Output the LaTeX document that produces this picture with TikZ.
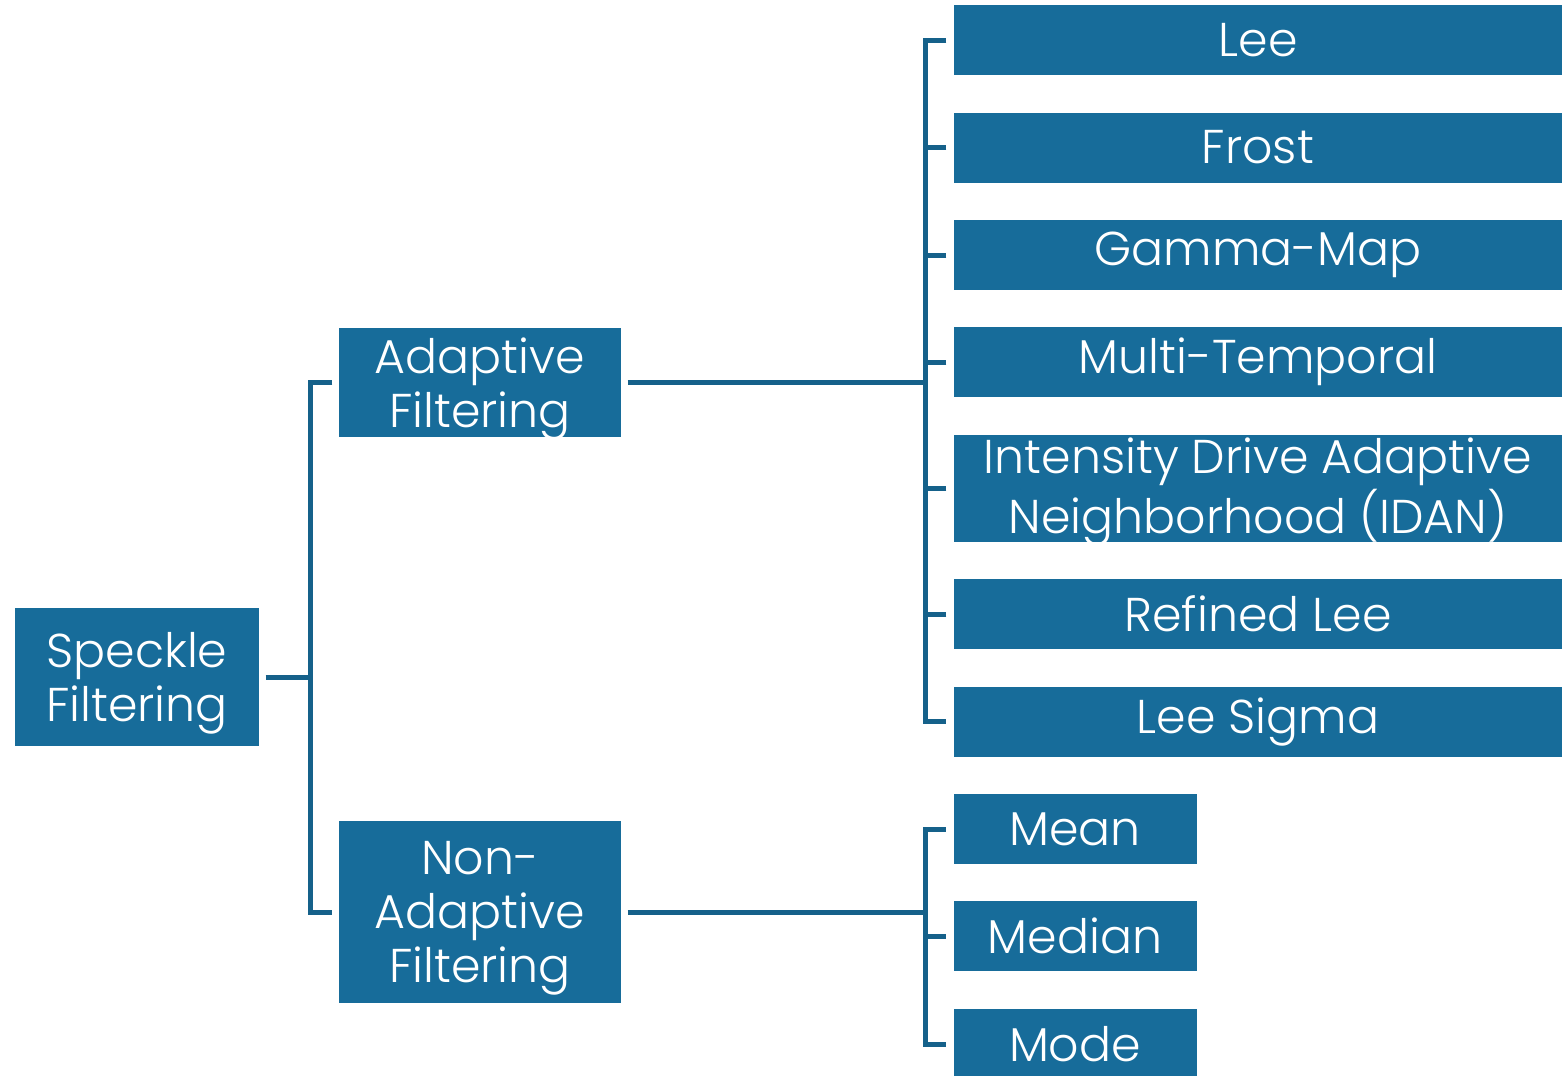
\documentclass[tikz,border=0pt]{standalone}
\usepackage{fontspec}
\IfFontExistsTF{Poppins Light}{\setmainfont{Poppins Light}}{\setmainfont{Poppins}}
\usepackage{xcolor}
\definecolor{boxblue}{HTML}{176C9A}
\definecolor{lineblue}{HTML}{15618A}
\usepackage{tikz}
\usetikzlibrary{positioning}

\begin{document}
\begin{tikzpicture}[x=0.1mm, y=-0.1mm,
    filtre/.style={shape=rectangle, fill=boxblue, text=white, align=center, inner sep=0pt,
        font=\fontsize{13.5pt}{15.4pt}\selectfont},
    multi/.style={filtre, text depth=0pt},
    large/.style={filtre, minimum width=60.8mm, minimum height=7mm},
    petit/.style={filtre, minimum width=24.3mm, minimum height=7mm},
    lien/.style={draw=lineblue, line width=0.5mm}]
            \clip (0,0) rectangle (1567,1075);

            \node (speckle) [multi, minimum width=24.4mm, minimum height=13.8mm] at (137,677) {Speckle\\Filtering};
            \node (adapt) [multi, minimum width=28.2mm, minimum height=10.9mm] at (480,382.5) {Adaptive\\Filtering};
            \node (nonadapt) [multi, minimum width=28.2mm, minimum height=18.2mm] at (480,912) {Non-\\Adaptive\\Filtering};

            \node (lee) [large] at (1258,40) {Lee};
            \node (frost) [large] at (1258,147.5) {Frost};
            \node (gamma) [large] at (1258,255) {Gamma-Map};
            \node (multi) [large] at (1258,362) {Multi-Temporal};
            \node (idan) [large, text depth=0.6mm, minimum height=10.7mm] at (1258,488.5) {Intensity Drive Adaptive\\Neighborhood (IDAN)};
            \node (refined) [large] at (1258,614) {Refined Lee};
            \node (sigma) [large] at (1258,721.5) {Lee Sigma};

            \node (mean) [petit] at (1075,829) {Mean};
            \node (median) [petit] at (1075,936) {Median};
            \node (mode) [petit] at (1075,1044) {Mode};

            \coordinate (bus) at (310,0);
            \coordinate (busA) at (925,0);

            % premier niveau
            \draw[lien] ([xshift=0.6mm]speckle.east) -- (bus |- speckle.east);
            \draw[lien] ([xshift=-0.6mm]adapt.west) -| (bus |- nonadapt.west) -- ([xshift=-0.6mm]nonadapt.west);

            % filtres adaptatifs
            \draw[lien] ([xshift=0.6mm]adapt.east) -- (busA |- adapt.east);
            \draw[lien] ([xshift=-0.7mm]lee.west) -| (busA |- sigma.west) -- ([xshift=-0.7mm]sigma.west);
            \foreach \f in {frost, gamma, multi, idan, refined}
                \draw[lien] ([xshift=-0.7mm]\f.west) -- (busA |- \f.west);

            % filtres non adaptatifs
            \draw[lien] ([xshift=0.6mm]nonadapt.east) -- (busA |- nonadapt.east);
            \draw[lien] ([xshift=-0.7mm]mean.west) -| (busA |- mode.west) -- ([xshift=-0.7mm]mode.west);
            \draw[lien] ([xshift=-0.7mm]median.west) -- (busA |- median.west);
        \end{tikzpicture}
\end{document}
